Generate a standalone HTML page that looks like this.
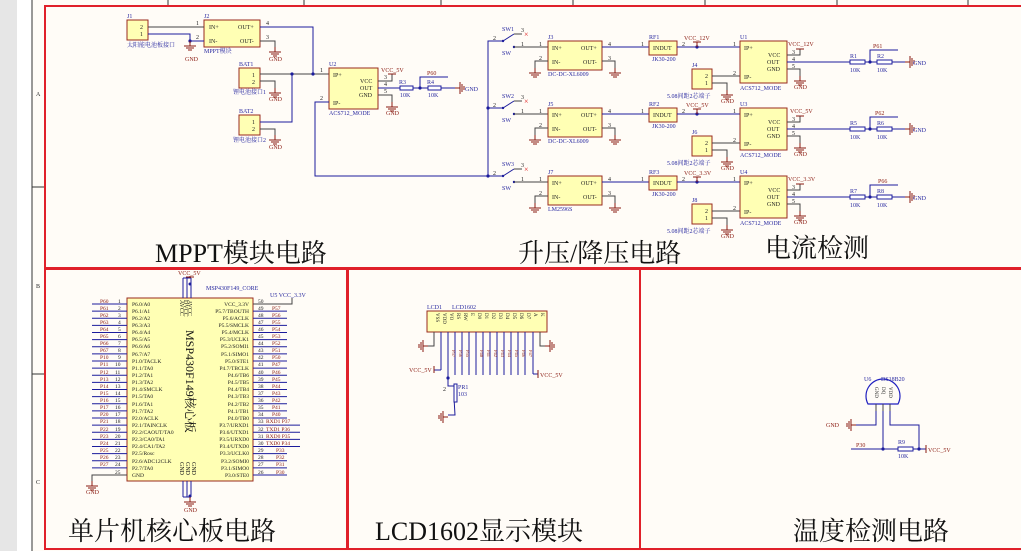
<!DOCTYPE html>
<html><head><meta charset="utf-8"><style>
html,body{margin:0;padding:0;background:#fff;}
svg{display:block;font-family:"Liberation Serif","Noto Serif CJK SC",serif;}
.b{fill:#ffffb4;stroke:#9a2a1e;stroke-width:1}
.w{stroke:#1c1c9c;stroke-width:1;fill:none}
.p{stroke:#444;stroke-width:1;fill:none}
.t{font-size:6px;fill:#222}
.n{font-size:6px;fill:#2a2aa0}
.r{font-size:6px;fill:#8a1a10}
.T{font-size:26px;fill:#111}
.fr{fill:none;stroke:#e0202a;stroke-width:2}
.res{fill:#fff;stroke:#1c1c9c;stroke-width:1}
.dot{fill:#1c1c9c}
</style></head><body>
<svg width="1021" height="551" viewBox="0 0 1021 551" xmlns="http://www.w3.org/2000/svg">
<defs>
<g id="gnd"><line x1="0" y1="0" x2="0" y2="5" stroke="#8a1a10"/><line x1="-6" y1="5" x2="6" y2="5" stroke="#8a1a10"/><line x1="-4" y1="7" x2="4" y2="7" stroke="#8a1a10"/><line x1="-2" y1="9" x2="2" y2="9" stroke="#8a1a10"/></g>
<g id="gndr"><line x1="0" y1="0" x2="5" y2="0" stroke="#8a1a10"/><line x1="5" y1="-6" x2="5" y2="6" stroke="#8a1a10"/><line x1="7" y1="-4" x2="7" y2="4" stroke="#8a1a10"/><line x1="9" y1="-2" x2="9" y2="2" stroke="#8a1a10"/></g>
<g id="gndl"><line x1="0" y1="0" x2="-5" y2="0" stroke="#8a1a10"/><line x1="-5" y1="-6" x2="-5" y2="6" stroke="#8a1a10"/><line x1="-7" y1="-4" x2="-7" y2="4" stroke="#8a1a10"/><line x1="-9" y1="-2" x2="-9" y2="2" stroke="#8a1a10"/></g>
</defs>
<rect x="0" y="0" width="1021" height="551" fill="#fffcf7"/>
<rect x="0" y="0" width="17" height="551" fill="#e6e6e6"/>
<rect x="17" y="0" width="15" height="551" fill="#fff"/>
<line x1="32" y1="0" x2="32" y2="551" stroke="#333"/>
<line x1="32" y1="187" x2="45" y2="187" stroke="#333"/>
<line x1="32" y1="374" x2="45" y2="374" stroke="#333"/>
<text x="36" y="96" class="t">A</text><text x="36" y="288" class="t">B</text><text x="36" y="484" class="t">C</text>
<g stroke="#333"><line x1="168" y1="0" x2="168" y2="5"/><line x1="304" y1="0" x2="304" y2="5"/><line x1="441" y1="0" x2="441" y2="5"/><line x1="573" y1="0" x2="573" y2="5"/><line x1="705" y1="0" x2="705" y2="5"/><line x1="837" y1="0" x2="837" y2="5"/><line x1="968" y1="0" x2="968" y2="5"/></g>
<rect x="45" y="6" width="990" height="262" class="fr"/>
<rect x="45" y="269" width="302" height="280" class="fr"/>
<rect x="348" y="269" width="292" height="280" class="fr"/>
<rect x="640" y="269" width="395" height="280" class="fr"/>

<!-- MPPT -->
<rect x="127" y="20" width="21" height="20" class="b"/><text x="140" y="29" class="t">2</text><text x="140" y="36" class="t">1</text>
<text x="127" y="18" class="n">J1</text><text x="127" y="47" class="n" style="font-size:6px">太阳能电池板接口</text>
<rect x="204" y="20" width="56" height="27" class="b"/><text x="204" y="18" class="n">J2</text>
<text x="209" y="29" class="t">IN+</text><text x="209" y="43" class="t">IN-</text><text x="238" y="29" class="t">OUT+</text><text x="240" y="43" class="t">OUT-</text>
<text x="204" y="53" class="n">MPPT模块</text>
<polyline points="148,27 204,27" class="p"/><polyline points="148,34 190,34 190,41 204,41" class="w"/>
<circle cx="190" cy="41" r="1.6" class="dot"/><use href="#gnd" x="190" y="41"/><text x="185" y="61" class="r">GND</text>
<polyline points="260,27 313,27 313,74" class="w"/><text x="266" y="25" class="t">4</text><text x="266" y="39" class="t">3</text><text x="196" y="25" class="t">1</text><text x="196" y="39" class="t">2</text>
<polyline points="260,41 275,41 275,47" class="p"/><use href="#gnd" x="275" y="47"/><text x="269" y="61" class="r">GND</text>
<rect x="239" y="68" width="21" height="20" class="b"/><text x="239" y="66" class="n">BAT1</text><text x="252" y="77" class="t">1</text><text x="252" y="84" class="t">2</text>
<text x="233" y="94" class="n">锂电池接口1</text>
<polyline points="260,74 329,74" class="p"/><circle cx="292" cy="74" r="1.6" class="dot"/><circle cx="313" cy="74" r="1.6" class="dot"/>
<polyline points="260,81 275,81 275,88" class="p"/><use href="#gnd" x="275" y="88"/><text x="269" y="101" class="r">GND</text>
<rect x="239" y="115" width="21" height="20" class="b"/><text x="239" y="113" class="n">BAT2</text><text x="252" y="124" class="t">1</text><text x="252" y="131" class="t">2</text>
<text x="233" y="142" class="n">锂电池接口2</text>
<polyline points="260,122 292,122 292,74" class="w"/>
<polyline points="260,129 275,129 275,135" class="p"/><use href="#gnd" x="275" y="135"/><text x="269" y="149" class="r">GND</text>
<rect x="329" y="68" width="49" height="41" class="b"/><text x="329" y="66" class="n">U2</text>
<text x="333" y="77" class="t">IP+</text><text x="333" y="105" class="t">IP-</text><text x="360" y="83" class="t">VCC</text><text x="360" y="90" class="t">OUT</text><text x="359" y="97" class="t">GND</text>
<text x="320" y="72" class="t">1</text><text x="320" y="100" class="t">2</text>
<text x="329" y="115" class="n">ACS712_MODE</text>
<polyline points="329,102 315,102 315,176 488,176" class="w"/>
<polyline points="378,81 392,81 392,74" class="p"/><line x1="388" y1="74" x2="396" y2="74" stroke="#8a1a10"/><text x="381" y="72" class="r">VCC_5V</text>
<text x="384" y="79" class="t">3</text><text x="384" y="86" class="t">4</text><text x="384" y="93" class="t">5</text>
<polyline points="378,88 455,88" class="w"/><rect x="400" y="86" width="13" height="4" class="res"/><rect x="428" y="86" width="13" height="4" class="res"/>
<text x="399" y="84" class="n">R3</text><text x="427" y="84" class="n">R4</text><text x="400" y="97" class="n">10K</text><text x="428" y="97" class="n">10K</text>
<circle cx="420" cy="88" r="1.6" class="dot"/><polyline points="420,88 420,77 448,77" class="w"/><text x="427" y="75" class="r">P60</text>
<use href="#gndr" x="455" y="88"/><text x="465" y="91" class="n">GND</text>
<polyline points="378,95 392,95 392,102" class="p"/><use href="#gnd" x="392" y="102"/><text x="386" y="115" class="r">GND</text>
<text x="155" y="262" class="T">MPPT模块电路</text>

<!-- bus -->
<polyline points="502,41 488,41 488,176 502,176" class="w"/>
<circle cx="488" cy="108" r="1.6" class="dot"/><circle cx="488" cy="176" r="1.6" class="dot"/>

<!-- row template: rows 1..3 -->
<g id="row1">
<line x1="488" y1="41" x2="502" y2="41" class="w"/><circle cx="503" cy="41" r="1.2" class="dot"/><line x1="503" y1="41" x2="514" y2="34" stroke="#1c1c9c"/>
<line x1="514" y1="34" x2="522" y2="34" class="p"/><text x="524" y="37" style="font-size:8px;fill:#e02020">×</text>
<circle cx="514" cy="47" r="1.2" class="dot"/><line x1="514" y1="47" x2="548" y2="47" class="p"/>
<text x="493" y="40" class="t">2</text><text x="521" y="32" class="t">3</text><text x="521" y="46" class="t">1</text><text x="539" y="46" class="t">1</text>
<rect x="548" y="41" width="54" height="29" class="b"/>
<text x="552" y="50" class="t">IN+</text><text x="552" y="64" class="t">IN-</text><text x="581" y="50" class="t">OUT+</text><text x="583" y="64" class="t">OUT-</text>
<polyline points="548,61 535,61 535,68" class="p"/><use href="#gnd" x="535" y="68"/><text x="539" y="60" class="t">2</text>
<line x1="602" y1="47" x2="649" y2="47" class="w"/><text x="608" y="46" class="t">4</text><text x="641" y="46" class="t">1</text>
<polyline points="602,61 615,61 615,68" class="p"/><use href="#gnd" x="615" y="68"/><text x="608" y="60" class="t">3</text>
<rect x="649" y="41" width="28" height="14" class="b"/><text x="653" y="50" class="t">INDUT</text>
<line x1="677" y1="47" x2="740" y2="47" class="w"/><circle cx="697" cy="47" r="1.6" class="dot"/><line x1="697" y1="47" x2="697" y2="42" stroke="#8a1a10"/><line x1="693" y1="42" x2="701" y2="42" stroke="#8a1a10"/>
<text x="682" y="46" class="t">2</text><text x="733" y="46" class="t">1</text><text x="733" y="75" class="t">2</text>
<rect x="692" y="69" width="20" height="20" class="b"/><text x="705" y="78" class="t">2</text><text x="705" y="85" class="t">1</text>
<polyline points="712,76 740,76" class="p"/><polyline points="712,83 727,83 727,90" class="p"/><use href="#gnd" x="727" y="90"/><text x="721" y="103" class="r">GND</text>
<rect x="740" y="41" width="47" height="42" class="b"/>
<text x="744" y="50" class="t">IP+</text><text x="744" y="79" class="t">IP-</text><text x="768" y="57" class="t">VCC</text><text x="767" y="64" class="t">OUT</text><text x="767" y="71" class="t">GND</text>
<polyline points="787,55 800,55 800,49" class="p"/><line x1="796" y1="49" x2="804" y2="49" stroke="#8a1a10"/>
<text x="792" y="54" class="t">3</text><text x="792" y="61" class="t">4</text><text x="792" y="68" class="t">5</text>
<line x1="787" y1="62" x2="905" y2="62" class="w"/>
<polyline points="787,69 800,69 800,76" class="p"/><use href="#gnd" x="800" y="76"/><text x="794" y="89" class="r">GND</text>
<rect x="850" y="60" width="15" height="4" class="res"/><rect x="877" y="60" width="15" height="4" class="res"/>
<circle cx="870" cy="62" r="1.6" class="dot"/><polyline points="870,62 870,50 898,50" class="w"/>
<text x="850" y="72" class="n">10K</text><text x="877" y="72" class="n">10K</text>
<use href="#gndr" x="905" y="62"/><text x="913" y="65" class="n">GND</text>
<text x="740" y="90" class="n">ACS712_MODE</text><text x="667" y="98" class="n">5.08间距2芯端子</text><text x="652" y="61" class="n">JK30-200</text>
</g>
<use href="#row1" y="67"/>
<use href="#row1" y="135"/>
<!-- row-specific labels -->
<text x="502" y="31" class="n">SW1</text><text x="502" y="55" class="n">SW</text><text x="548" y="39" class="n">J3</text><text x="548" y="76" class="n">DC-DC-XL6009</text><text x="649" y="39" class="n">RF1</text><text x="684" y="40" class="r">VCC_12V</text><text x="740" y="39" class="n">U1</text><text x="692" y="67" class="n">J4</text><text x="788" y="46" class="r">VCC_12V</text><text x="850" y="58" class="n">R1</text><text x="877" y="58" class="n">R2</text><text x="873" y="48" class="r">P61</text>
<text x="502" y="98" class="n">SW2</text><text x="502" y="122" class="n">SW</text><text x="548" y="106" class="n">J5</text><text x="548" y="143" class="n">DC-DC-XL6009</text><text x="649" y="106" class="n">RF2</text><text x="686" y="107" class="r">VCC_5V</text><text x="740" y="106" class="n">U3</text><text x="692" y="134" class="n">J6</text><text x="790" y="113" class="r">VCC_5V</text><text x="850" y="125" class="n">R5</text><text x="877" y="125" class="n">R6</text><text x="875" y="115" class="r">P62</text>
<text x="502" y="166" class="n">SW3</text><text x="502" y="190" class="n">SW</text><text x="548" y="174" class="n">J7</text><text x="548" y="211" class="n">LM2596S</text><text x="649" y="174" class="n">RF3</text><text x="684" y="175" class="r">VCC_3.3V</text><text x="740" y="174" class="n">U4</text><text x="692" y="202" class="n">J8</text><text x="788" y="181" class="r">VCC_3.3V</text><text x="850" y="193" class="n">R7</text><text x="877" y="193" class="n">R8</text><text x="878" y="183" class="r">P66</text>
<text x="518" y="262" class="T">升压/降压电路</text>
<text x="765" y="257" class="T">电流检测</text>

<!-- MCU -->
<rect x="127" y="298" width="126" height="183" class="b"/>
<g class="w"><line x1="183" y1="278" x2="183" y2="298"/><line x1="187" y1="278" x2="187" y2="298"/><line x1="191" y1="278" x2="191" y2="298"/><line x1="183" y1="278" x2="191" y2="278"/>
<line x1="183" y1="481" x2="183" y2="497"/><line x1="187" y1="481" x2="187" y2="497"/><line x1="191" y1="481" x2="191" y2="497"/><line x1="183" y1="497" x2="191" y2="497"/></g>
<circle cx="190" cy="284" r="1.5" class="dot"/><circle cx="190" cy="496" r="1.5" class="dot"/>
<line x1="190" y1="276" x2="190" y2="278" stroke="#8a1a10"/><line x1="186" y1="277" x2="194" y2="277" stroke="#8a1a10"/><text x="178" y="275" class="r">VCC_5V</text>
<use href="#gnd" x="190" y="497"/><text x="184" y="512" class="r">GND</text>
<text x="206" y="290" class="n">MSP430F149_CORE</text><text x="270" y="297" class="n">U5 VCC_3.3V</text>
<polyline points="253,304 292,304 292,298" class="p"/>
<text transform="translate(186,330) rotate(90)" style="font-size:12px;fill:#111">MSP430F149核心板</text>
<text transform="translate(180,300) rotate(90)" class="t">AVCC</text><text transform="translate(184,300) rotate(90)" class="t">DVCC</text><text transform="translate(188,300) rotate(90)" class="t">AVCC</text>
<text transform="translate(180,462) rotate(90)" class="t">GND</text><text transform="translate(186,462) rotate(90)" class="t">GND</text><text transform="translate(192,462) rotate(90)" class="t">GND</text>
<g class="w">
<line x1="92" y1="304" x2="127" y2="304"/><line x1="92" y1="311.1" x2="127" y2="311.1"/><line x1="92" y1="318.3" x2="127" y2="318.3"/><line x1="92" y1="325.4" x2="127" y2="325.4"/><line x1="92" y1="332.5" x2="127" y2="332.5"/><line x1="92" y1="339.6" x2="127" y2="339.6"/><line x1="92" y1="346.8" x2="127" y2="346.8"/><line x1="92" y1="353.9" x2="127" y2="353.9"/><line x1="92" y1="361" x2="127" y2="361"/><line x1="92" y1="368.1" x2="127" y2="368.1"/><line x1="92" y1="375.3" x2="127" y2="375.3"/><line x1="92" y1="382.4" x2="127" y2="382.4"/><line x1="92" y1="389.5" x2="127" y2="389.5"/><line x1="92" y1="396.6" x2="127" y2="396.6"/><line x1="92" y1="403.8" x2="127" y2="403.8"/><line x1="92" y1="410.9" x2="127" y2="410.9"/><line x1="92" y1="418" x2="127" y2="418"/><line x1="92" y1="425.1" x2="127" y2="425.1"/><line x1="92" y1="432.3" x2="127" y2="432.3"/><line x1="92" y1="439.4" x2="127" y2="439.4"/><line x1="92" y1="446.5" x2="127" y2="446.5"/><line x1="92" y1="453.6" x2="127" y2="453.6"/><line x1="92" y1="460.8" x2="127" y2="460.8"/><line x1="92" y1="467.9" x2="127" y2="467.9"/>
<line x1="253" y1="311.1" x2="287" y2="311.1"/><line x1="253" y1="318.3" x2="287" y2="318.3"/><line x1="253" y1="325.4" x2="287" y2="325.4"/><line x1="253" y1="332.5" x2="287" y2="332.5"/><line x1="253" y1="339.6" x2="287" y2="339.6"/><line x1="253" y1="346.8" x2="287" y2="346.8"/><line x1="253" y1="353.9" x2="287" y2="353.9"/><line x1="253" y1="361" x2="287" y2="361"/><line x1="253" y1="368.1" x2="287" y2="368.1"/><line x1="253" y1="375.3" x2="287" y2="375.3"/><line x1="253" y1="382.4" x2="287" y2="382.4"/><line x1="253" y1="389.5" x2="287" y2="389.5"/><line x1="253" y1="396.6" x2="287" y2="396.6"/><line x1="253" y1="403.8" x2="287" y2="403.8"/><line x1="253" y1="410.9" x2="287" y2="410.9"/><line x1="253" y1="418" x2="287" y2="418"/><line x1="253" y1="425.1" x2="300" y2="425.1"/><line x1="253" y1="432.3" x2="300" y2="432.3"/><line x1="253" y1="439.4" x2="300" y2="439.4"/><line x1="253" y1="446.5" x2="300" y2="446.5"/><line x1="253" y1="453.6" x2="287" y2="453.6"/><line x1="253" y1="460.8" x2="287" y2="460.8"/><line x1="253" y1="467.9" x2="287" y2="467.9"/><line x1="253" y1="475" x2="287" y2="475"/>
</g>
<polyline points="127,475 92,475 92,481" class="p"/><use href="#gnd" x="92" y="481"/><text x="86" y="494" class="r">GND</text>
<g class="r" style="font-size:5.5px">
<text x="100" y="303">P60</text><text x="100" y="310">P61</text><text x="100" y="317">P62</text><text x="100" y="324">P63</text><text x="100" y="331">P64</text><text x="100" y="338">P65</text><text x="100" y="345">P66</text><text x="100" y="352">P67</text><text x="100" y="359">P10</text><text x="100" y="366">P11</text><text x="100" y="374">P12</text><text x="100" y="381">P13</text><text x="100" y="388">P14</text><text x="100" y="395">P15</text><text x="100" y="402">P16</text><text x="100" y="409">P17</text><text x="100" y="416">P20</text><text x="100" y="423">P21</text><text x="100" y="431">P22</text><text x="100" y="438">P23</text><text x="100" y="445">P24</text><text x="100" y="452">P25</text><text x="100" y="459">P26</text><text x="100" y="466">P27</text>
<text x="272" y="310">P57</text><text x="272" y="317">P56</text><text x="272" y="324">P55</text><text x="272" y="331">P54</text><text x="272" y="338">P53</text><text x="272" y="345">P52</text><text x="272" y="352">P51</text><text x="272" y="359">P50</text><text x="272" y="366">P47</text><text x="272" y="374">P46</text><text x="272" y="381">P45</text><text x="272" y="388">P44</text><text x="272" y="395">P43</text><text x="272" y="402">P42</text><text x="272" y="409">P41</text><text x="272" y="416">P40</text>
<text x="266" y="423">RXD1  P37</text><text x="266" y="431">TXD1  P36</text><text x="266" y="438">RXD0  P35</text><text x="266" y="445">TXD0  P34</text>
<text x="276" y="452">P33</text><text x="276" y="459">P32</text><text x="276" y="466">P31</text><text x="276" y="474">P30</text>
</g>
<g class="t" style="font-size:5.5px">
<text x="118" y="303">1</text><text x="118" y="310">2</text><text x="118" y="317">3</text><text x="118" y="324">4</text><text x="118" y="331">5</text><text x="118" y="338">6</text><text x="118" y="345">7</text><text x="118" y="352">8</text><text x="118" y="359">9</text><text x="115" y="366">10</text><text x="115" y="374">11</text><text x="115" y="381">12</text><text x="115" y="388">13</text><text x="115" y="395">14</text><text x="115" y="402">15</text><text x="115" y="409">16</text><text x="115" y="416">17</text><text x="115" y="423">18</text><text x="115" y="431">19</text><text x="115" y="438">20</text><text x="115" y="445">21</text><text x="115" y="452">22</text><text x="115" y="459">23</text><text x="115" y="466">24</text><text x="115" y="474">25</text>
<text x="258" y="303">50</text><text x="258" y="310">49</text><text x="258" y="317">48</text><text x="258" y="324">47</text><text x="258" y="331">46</text><text x="258" y="338">45</text><text x="258" y="345">44</text><text x="258" y="352">43</text><text x="258" y="359">42</text><text x="258" y="366">41</text><text x="258" y="374">40</text><text x="258" y="381">39</text><text x="258" y="388">38</text><text x="258" y="395">37</text><text x="258" y="402">36</text><text x="258" y="409">35</text><text x="258" y="416">34</text><text x="258" y="423">33</text><text x="258" y="431">32</text><text x="258" y="438">31</text><text x="258" y="445">30</text><text x="258" y="452">29</text><text x="258" y="459">28</text><text x="258" y="466">27</text><text x="258" y="474">26</text>
<text x="132" y="306">P6.0/A0</text><text x="132" y="313">P6.1/A1</text><text x="132" y="320">P6.2/A2</text><text x="132" y="327">P6.3/A3</text><text x="132" y="334">P6.4/A4</text><text x="132" y="341">P6.5/A5</text><text x="132" y="348">P6.6/A6</text><text x="132" y="356">P6.7/A7</text><text x="132" y="363">P1.0/TACLK</text><text x="132" y="370">P1.1/TA0</text><text x="132" y="377">P1.2/TA1</text><text x="132" y="384">P1.3/TA2</text><text x="132" y="391">P1.4/SMCLK</text><text x="132" y="398">P1.5/TA0</text><text x="132" y="406">P1.6/TA1</text><text x="132" y="413">P1.7/TA2</text><text x="132" y="420">P2.0/ACLK</text><text x="132" y="427">P2.1/TAINCLK</text><text x="132" y="434">P2.2/CAOUT/TA0</text><text x="132" y="441">P2.3/CA0/TA1</text><text x="132" y="448">P2.4/CA1/TA2</text><text x="132" y="455">P2.5/Rosc</text><text x="132" y="463">P2.6/ADC12CLK</text><text x="132" y="470">P2.7/TA0</text><text x="132" y="477">GND</text>
</g>
<g class="t" style="font-size:5.5px" text-anchor="end">
<text x="249" y="306">VCC_3.3V</text><text x="249" y="313">P5.7/TBOUTH</text><text x="249" y="320">P5.6/ACLK</text><text x="249" y="327">P5.5/SMCLK</text><text x="249" y="334">P5.4/MCLK</text><text x="249" y="341">P5.3/UCLK1</text><text x="249" y="348">P5.2/SOMI1</text><text x="249" y="356">P5.1/SIMO1</text><text x="249" y="363">P5.0/STE1</text><text x="249" y="370">P4.7/TBCLK</text><text x="249" y="377">P4.6/TB6</text><text x="249" y="384">P4.5/TB5</text><text x="249" y="391">P4.4/TB4</text><text x="249" y="398">P4.3/TB3</text><text x="249" y="406">P4.2/TB2</text><text x="249" y="413">P4.1/TB1</text><text x="249" y="420">P4.0/TB0</text><text x="249" y="427">P3.7/URXD1</text><text x="249" y="434">P3.6/UTXD1</text><text x="249" y="441">P3.5/URXD0</text><text x="249" y="448">P3.4/UTXD0</text><text x="249" y="455">P3.3/UCLK0</text><text x="249" y="463">P3.2/SOMI0</text><text x="249" y="470">P3.1/SIMO0</text><text x="249" y="477">P3.0/STE0</text>
</g>
<text x="68" y="540" class="T">单片机核心板电路</text>

<!-- LCD -->
<rect x="427" y="311" width="120" height="21" class="b"/>
<text x="427" y="309" class="n">LCD1</text><text x="452" y="309" class="n">LCD1602</text>
<g class="t" style="font-size:5px">
<text transform="translate(436,313) rotate(90)">VSS</text><text transform="translate(443,313) rotate(90)">VDD</text><text transform="translate(450,313) rotate(90)">VO</text><text transform="translate(457,313) rotate(90)">RS</text><text transform="translate(464,313) rotate(90)">RW</text><text transform="translate(471,313) rotate(90)">E</text><text transform="translate(478,313) rotate(90)">D0</text><text transform="translate(485,313) rotate(90)">D1</text><text transform="translate(492,313) rotate(90)">D2</text><text transform="translate(499,313) rotate(90)">D3</text><text transform="translate(506,313) rotate(90)">D4</text><text transform="translate(513,313) rotate(90)">D5</text><text transform="translate(520,313) rotate(90)">D6</text><text transform="translate(527,313) rotate(90)">D7</text><text transform="translate(534,313) rotate(90)">A</text><text transform="translate(541,313) rotate(90)">K</text>
</g>
<g class="w">
<line x1="441" y1="332" x2="441" y2="370"/><line x1="448" y1="332" x2="448" y2="378"/><line x1="455" y1="332" x2="455" y2="375"/><line x1="462" y1="332" x2="462" y2="375"/><line x1="469" y1="332" x2="469" y2="375"/><line x1="476" y1="332" x2="476" y2="375"/><line x1="483" y1="332" x2="483" y2="375"/><line x1="490" y1="332" x2="490" y2="375"/><line x1="497" y1="332" x2="497" y2="375"/><line x1="504" y1="332" x2="504" y2="375"/><line x1="511" y1="332" x2="511" y2="375"/><line x1="518" y1="332" x2="518" y2="375"/><line x1="525" y1="332" x2="525" y2="375"/><line x1="533" y1="332" x2="533" y2="374"/>
<polyline points="533,374 538,374"/><polyline points="441,370 434,370"/>
<polyline points="448,378 448,386 454,386 454,398 455,415 448,415"/>
</g>
<polyline points="434,332 434,346 428,346" class="p"/><use href="#gndl" x="428" y="346"/>
<polyline points="540,332 540,346 545,346" class="p"/><use href="#gndr" x="545" y="346"/>
<line x1="434" y1="366" x2="434" y2="373" stroke="#8a1a10"/><text x="409" y="372" class="r">VCC_5V</text>
<line x1="538" y1="370" x2="538" y2="378" stroke="#8a1a10"/><text x="540" y="377" class="r">VCC_5V</text>
<circle cx="448" cy="378" r="1.6" class="dot"/>
<g class="r" style="font-size:4.5px"><text transform="translate(452,350) rotate(90)">P57</text><text transform="translate(459,350) rotate(90)">P56</text><text transform="translate(466,350) rotate(90)">P55</text><text transform="translate(480,350) rotate(90)">P40</text><text transform="translate(487,350) rotate(90)">P41</text><text transform="translate(494,350) rotate(90)">P42</text><text transform="translate(501,350) rotate(90)">P43</text><text transform="translate(508,350) rotate(90)">P44</text><text transform="translate(515,350) rotate(90)">P45</text><text transform="translate(522,350) rotate(90)">P46</text><text transform="translate(529,350) rotate(90)">P47</text></g>
<rect x="454" y="384" width="3" height="18" class="res"/><text x="458" y="389" class="n">PR1</text><text x="458" y="396" class="n">103</text><text x="443" y="391" class="t">2</text>
<use href="#gndl" x="448" y="417"/>
<text x="375" y="540" class="T">LCD1602显示模块</text>

<!-- temp -->
<path d="M868,404 A17,17 0 1 1 898,404 Z" fill="#fffcf7" stroke="#2020c0" stroke-width="1.2"/>
<text x="864" y="381" class="n">U6</text><text x="881" y="381" class="n">DS18B20</text>
<g class="t" style="font-size:5px"><text transform="translate(875,387) rotate(90)">GND</text><text transform="translate(882,387) rotate(90)">DQ</text><text transform="translate(889,387) rotate(90)">VDD</text></g>
<g class="p"><line x1="876" y1="404" x2="876" y2="411"/><line x1="883" y1="404" x2="883" y2="411"/><line x1="890" y1="404" x2="890" y2="411"/></g>
<polyline points="876,411 876,425 856,425" class="w"/><polyline points="883,411 883,449" class="w"/><polyline points="890,411 890,425 919,425 919,449" class="w"/>
<use href="#gndl" x="856" y="425"/><text x="826" y="427" class="r">GND</text>
<line x1="851" y1="449" x2="926" y2="449" class="w"/><text x="856" y="447" class="r">P30</text>
<circle cx="883" cy="449" r="1.6" class="dot"/><circle cx="919" cy="449" r="1.6" class="dot"/>
<rect x="898" y="447" width="15" height="4" class="res"/><text x="898" y="444" class="n">R9</text><text x="898" y="458" class="n">10K</text>
<line x1="926" y1="445" x2="926" y2="453" stroke="#8a1a10"/><text x="928" y="452" class="r">VCC_5V</text>
<text x="793" y="540" class="T">温度检测电路</text>
</svg>
</body></html>
